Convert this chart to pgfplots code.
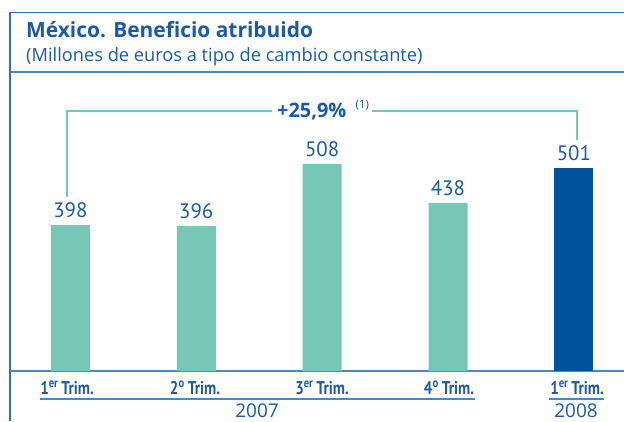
\documentclass[border=0pt]{standalone}
\usepackage{fontspec}
\setmainfont{PT Sans}
\newfontfamily\condbold[FakeStretch=0.82]{PT Sans Bold}
\newfontfamily\opensans{Open Sans}
\usepackage{pgfplots}
\pgfplotsset{compat=1.18}
\definecolor{textblue}{HTML}{1A5AA6}
\definecolor{frameblue}{HTML}{2F6DB5}
\definecolor{sepblue}{HTML}{4F86C2}
\definecolor{tealbar}{HTML}{77C7B7}
\definecolor{darkbar}{HTML}{00529C}
\begin{document}
\begin{tikzpicture}
\begin{scope}[x=1bp,y=-1bp]
\path[use as bounding box] (0,0) rectangle (624,421);
% frame
\draw[frameblue,line width=1.6bp] (10,421) -- (10,12.3) -- (624,12.3);
\draw[sepblue,line width=1.6bp] (10,72) -- (624,72);
\draw[sepblue,line width=1.6bp] (10,371) -- (624,371);
% titles
\node[anchor=base west,inner sep=0,text=textblue,font=\opensans\bfseries\fontsize{21}{22}\selectfont] at (26,37.5) {México. Beneficio atribuido};
\node[anchor=base west,inner sep=0,text=textblue,font=\opensans\fontsize{18.3}{20}\selectfont] at (26,61) {(Millones de euros a tipo de cambio constante)};
\end{scope}
\begin{axis}[at={(10bp,-371bp)},anchor=south west,scale only axis,
  width=614bp,height=290bp,
  xmin=-0.4794,xmax=4.3977,ymin=134.7,ymax=657.7,
  axis lines=none,
  ybar,bar width=39bp,bar shift=0pt,
  /pgf/number format/assume math mode=true,
  nodes near coords,
  every node near coord/.append style={anchor=south,inner sep=0pt,yshift=7bp,text=textblue,font=\fontsize{21}{21}\selectfont},
  ]
\addplot[fill=tealbar,draw=none] coordinates {(0,398) (1,396) (2,508) (3,438)};
\addplot[fill=darkbar,draw=none] coordinates {(4,501)};
\end{axis}
\begin{scope}[x=1bp,y=-1bp]
% bracket
\draw[tealbar,line width=1.3bp] (67,197) -- (67,111) -- (272,111);
\draw[tealbar,line width=1.3bp] (372,111) -- (577,111) -- (577,140);
\node[anchor=base west,inner sep=0,text=textblue,font=\opensans\bfseries\fontsize{20}{22}\selectfont] at (277,117.5) {+25,9\%};
\node[anchor=base west,inner sep=0,text=textblue,font=\opensans\fontsize{11.5}{12}\selectfont] at (355.5,108) {(1)};
% tick labels
\foreach \x/\s/\n in {67/er/1,195/o/2,322/er/3,449/o/4,577/er/1}{
  \node[anchor=base,inner sep=0,text=textblue,font=\condbold\fontsize{18.5}{20}\selectfont] at (\x,394) {\n\textsuperscript{\s}\,Trim.};
}
\draw[sepblue,line width=1.6bp] (40,399) -- (475,399);
\draw[sepblue,line width=1.6bp] (549,399) -- (604,399);
\node[anchor=base,inner sep=0,text=textblue,font=\opensans\fontsize{19}{20}\selectfont] at (257,417) {2007};
\node[anchor=base,inner sep=0,text=textblue,font=\opensans\fontsize{19}{20}\selectfont] at (576,417) {2008};
\end{scope}
\end{tikzpicture}
\end{document}
